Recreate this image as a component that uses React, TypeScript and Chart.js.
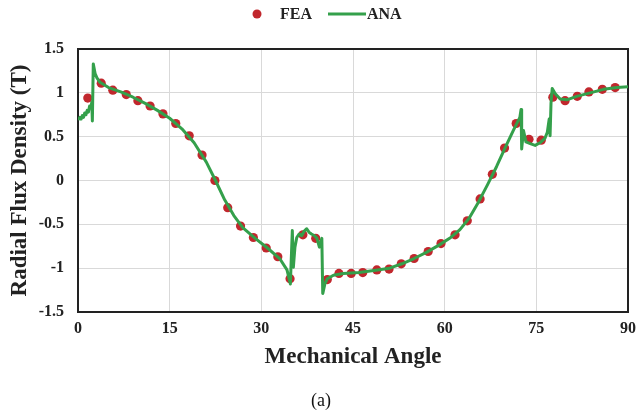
import React, { useEffect, useRef } from "react";
import { Chart, registerables } from "chart.js";

Chart.register(...registerables);

const xTicks = [0, 15, 30, 45, 60, 75, 90];
const yTicks = [-1.5, -1, -0.5, 0, 0.5, 1, 1.5];

const feaAngles = [1.6, 3.8, 5.7, 7.9, 9.8, 11.8, 13.9, 16.0, 18.2, 20.3, 22.4, 24.5, 26.6, 28.7, 30.8, 32.7, 34.7, 36.8, 38.9, 40.8, 42.7, 44.7, 46.6, 48.9, 50.9, 52.9, 55.0, 57.3, 59.4, 61.7, 63.7, 65.8, 67.8, 69.8, 71.7, 73.8, 75.8, 77.7, 79.7, 81.7, 83.6, 85.8, 87.9];
const feaValues = [0.94, 1.11, 1.03, 0.98, 0.91, 0.85, 0.76, 0.65, 0.51, 0.29, 0.0, -0.31, -0.52, -0.65, -0.77, -0.87, -1.12, -0.62, -0.66, -1.13, -1.06, -1.06, -1.05, -1.02, -1.01, -0.95, -0.89, -0.81, -0.72, -0.62, -0.46, -0.21, 0.07, 0.37, 0.65, 0.47, 0.46, 0.95, 0.91, 0.96, 1.01, 1.04, 1.06];

const anaAngles = [0, 0.3, 0.5, 0.7, 0.9, 1.1, 1.3, 1.5, 1.7, 1.9, 2.1, 2.25, 2.35, 2.5, 2.8, 3.1, 3.6, 5, 7, 9, 11, 13, 15, 17, 19, 21, 22.5, 24, 25.5, 27, 29, 31, 33, 34.2, 34.75, 35.07, 35.24, 35.5, 35.8, 36.2, 36.6, 37.0, 37.4, 37.8, 38.2, 38.7, 39.1, 39.5, 39.9, 40.05, 40.4, 40.8, 41.8, 43.4, 46, 49, 51, 53, 55, 57, 59, 61, 62.5, 64, 65.5, 67, 68.5, 70, 71.3, 72.3, 72.5, 72.6, 72.9, 73.3, 74.0, 74.8, 75.6, 76.4, 76.8, 77.1, 77.25, 77.4, 77.6, 78.1, 78.9, 80.0, 81.6, 83.8, 86.0, 88.2, 90];
const anaValues = [0.69, 0.72, 0.7, 0.74, 0.72, 0.77, 0.75, 0.8, 0.78, 0.85, 0.83, 0.89, 0.68, 1.33, 1.22, 1.17, 1.12, 1.06, 1.01, 0.95, 0.88, 0.8, 0.71, 0.59, 0.43, 0.21, 0.0, -0.22, -0.4, -0.54, -0.66, -0.77, -0.89, -1.02, -1.18, -0.57, -0.99, -0.76, -0.65, -0.61, -0.63, -0.58, -0.55, -0.59, -0.61, -0.63, -0.66, -0.76, -0.66, -1.29, -1.18, -1.12, -1.08, -1.06, -1.05, -1.02, -1.0, -0.95, -0.89, -0.82, -0.74, -0.65, -0.56, -0.43, -0.25, -0.05, 0.16, 0.39, 0.58, 0.72, 0.81, 0.36, 0.57, 0.44, 0.42, 0.4, 0.43, 0.48, 0.55, 0.7, 0.51, 0.88, 1.05, 0.99, 0.93, 0.92, 0.96, 1.0, 1.04, 1.06, 1.07];

const seriesNames = ["FEA", "ANA"];
const xTitle = "Mechanical Angle";
const yTitle = "Radial Flux Density (T)";
const caption = "(a)";

const FONT = "'Liberation Serif', 'Times New Roman', serif";
const RED = "#c1272d";
const GREEN = "#34a04b";

const decor = {
  id: "decor",
  beforeDatasetsDraw(chart: any) {
    const { ctx, chartArea } = chart;
    ctx.save();
    ctx.strokeStyle = "#222222";
    ctx.lineWidth = 2;
    ctx.strokeRect(chartArea.left, chartArea.top, chartArea.right - chartArea.left, chartArea.bottom - chartArea.top);
    ctx.restore();
  },
  afterDraw(chart: any) {
    const { ctx } = chart;
    ctx.save();
    const ly = 14;
    ctx.fillStyle = RED;
    ctx.beginPath();
    ctx.arc(257, ly, 4.5, 0, Math.PI * 2);
    ctx.fill();
    ctx.font = `bold 16px ${FONT}`;
    ctx.fillStyle = "#222222";
    ctx.textBaseline = "middle";
    ctx.textAlign = "left";
    ctx.fillText(seriesNames[0], 280, ly + 1);
    ctx.strokeStyle = GREEN;
    ctx.lineWidth = 3;
    ctx.beginPath();
    ctx.moveTo(328, ly);
    ctx.lineTo(366, ly);
    ctx.stroke();
    ctx.fillText(seriesNames[1], 367, ly + 1);
    ctx.font = `18px ${FONT}`;
    ctx.textAlign = "center";
    ctx.fillStyle = "#111111";
    ctx.fillText(caption, 321, 401);
    ctx.restore();
  },
};

export default function App() {
  const ref = useRef<HTMLCanvasElement | null>(null);
  useEffect(() => {
    if (!ref.current) return;
    const chart = new Chart(ref.current, {
      type: "scatter",
      data: {
        datasets: [
          {
            label: seriesNames[1],
            data: anaAngles.map((a, i) => ({ x: a, y: anaValues[i] })),
            showLine: true,
            borderColor: GREEN,
            backgroundColor: GREEN,
            borderWidth: 3,
            pointRadius: 0,
            tension: 0,
            borderJoinStyle: "round",
            order: 0,
          },
          {
            label: seriesNames[0],
            data: feaAngles.map((a, i) => ({ x: a, y: feaValues[i] })),
            showLine: false,
            backgroundColor: RED,
            borderColor: RED,
            pointRadius: 4.6,
            borderWidth: 0,
            order: 1,
          },
        ],
      },
      options: {
        animation: false,
        responsive: false,
        layout: { padding: { top: 49, right: 12, left: 0, bottom: 0 } },
        plugins: { legend: { display: false }, tooltip: { enabled: false } },
        scales: {
          x: {
            type: "linear",
            min: 0,
            max: 90,
            afterBuildTicks: (s: any) => { s.ticks = xTicks.map((v) => ({ value: v })); },
            afterFit: (s: any) => { s.height = 104; s.paddingLeft = 0; s.paddingRight = 0; },
            ticks: {
              padding: 7,
              color: "#222222",
              font: { family: FONT, size: 16, weight: "bold" },
              callback: (v: any) => String(v),
            },
            grid: { color: "#d9d9d9", lineWidth: 1, drawTicks: false },
            border: { display: false },
            title: {
              display: true,
              text: xTitle,
              color: "#222222",
              font: { family: FONT, size: 23, weight: "bold" },
              padding: { top: 0, bottom: 45 },
            },
          },
          y: {
            type: "linear",
            min: -1.5,
            max: 1.5,
            afterBuildTicks: (s: any) => { s.ticks = yTicks.map((v) => ({ value: v })); },
            afterFit: (s: any) => { s.width = 78; s.paddingTop = 0; s.paddingBottom = 0; },
            ticks: {
              padding: 14,
              color: "#222222",
              font: { family: FONT, size: 16, weight: "bold" },
              callback: (v: any) => String(v),
            },
            grid: { color: "#d9d9d9", lineWidth: 1, drawTicks: false },
            border: { display: false },
            title: {
              display: true,
              text: yTitle,
              color: "#222222",
              font: { family: FONT, size: 23, weight: "bold" },
              padding: { top: 6, bottom: 0 },
            },
          },
        },
      },
      plugins: [decor],
    } as any);
    return () => chart.destroy();
  }, []);
  return (
    <div style={{ position: "fixed", left: 0, top: 0, width: 640, height: 416, background: "#ffffff" }}>
      <canvas ref={ref} width={640} height={416} style={{ width: 640, height: 416, display: "block" }} />
    </div>
  );
}
